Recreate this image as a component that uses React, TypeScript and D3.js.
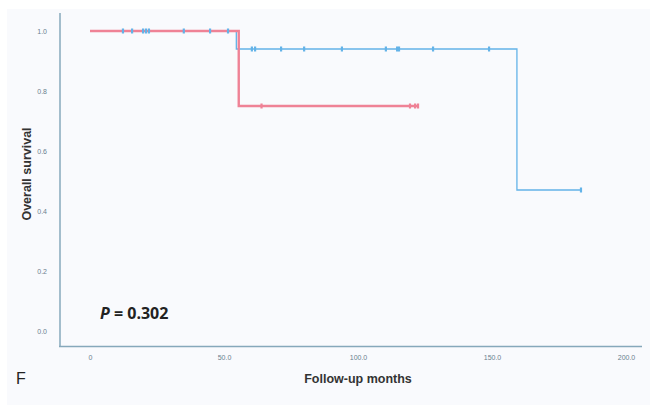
import React, { useEffect, useRef } from "react";
import * as d3 from "d3";

// step curves: time of each step and survival after it
const blueSteps = [0, 54.6, 159.3];
const blueSurv = [1.0, 0.94, 0.47];
const blueEnd = 183.2;
const blueCensor = [12.3, 15.7, 19.8, 20.9, 22, 35, 44.8, 51.5, 60.4, 61.6, 71.3, 79.9, 94, 110.4, 114.6, 115.3, 128, 148.9, 183.2];

const redSteps = [0, 55.5];
const redSurv = [1.0, 0.75];
const redEnd = 122.4;
const redCensor = [64, 119.4, 121.3, 122.4];

const xTicks = [0, 50, 100, 150, 200];
const yTicks = [0, 0.2, 0.4, 0.6, 0.8, 1.0];

const W = 650;
const H = 410;

export default function App() {
  const ref = useRef<SVGSVGElement>(null);

  useEffect(() => {
    const svg = d3.select(ref.current);
    svg.selectAll("*").remove();

    const x = d3.scaleLinear().domain([0, 200]).range([90, 626]);
    const y = d3.scaleLinear().domain([0, 1]).range([331, 31]);

    svg.append("rect").attr("x", 7).attr("y", 9).attr("width", W - 7).attr("height", 396).attr("fill", "#f9fafd");

    const axisColor = "#86a8bb";
    const xAxis = svg.append("g").attr("transform", "translate(0,346)")
      .call(d3.axisBottom(x).tickValues(xTicks).tickSize(0).tickPadding(9).tickFormat((d) => (+d === 0 ? "0" : d3.format(".1f")(+d))));
    xAxis.select(".domain").remove();
    xAxis.selectAll("text").attr("fill", "#6a7f8e").style("font-size", "7px").style("font-family", "Arial, Liberation Sans, sans-serif");

    const yAxis = svg.append("g").attr("transform", "translate(60,0)")
      .call(d3.axisLeft(y).tickValues(yTicks).tickSize(0).tickPadding(13).tickFormat(d3.format(".1f")));
    yAxis.select(".domain").remove();
    yAxis.selectAll("text").attr("fill", "#6a7f8e").style("font-size", "7px").style("font-family", "Arial, Liberation Sans, sans-serif");

    svg.append("line").attr("x1", 60).attr("x2", 60).attr("y1", 13).attr("y2", 346.5).attr("stroke", axisColor).attr("stroke-width", 1.5);
    svg.append("line").attr("x1", 59).attr("x2", 642).attr("y1", 346.5).attr("y2", 346.5).attr("stroke", axisColor).attr("stroke-width", 1.5);

    const stepPath = (steps: number[], surv: number[], end: number) => {
      const pts: [number, number][] = [];
      steps.forEach((t, i) => {
        if (i > 0) pts.push([t, surv[i - 1]]);
        pts.push([t, surv[i]]);
      });
      pts.push([end, surv[surv.length - 1]]);
      return d3.line<[number, number]>().x((d) => x(d[0])).y((d) => y(d[1]))(pts);
    };

    const survAt = (steps: number[], surv: number[], t: number) => {
      let s = surv[0];
      steps.forEach((st, i) => { if (t >= st) s = surv[i]; });
      return s;
    };

    const groups = [
      { steps: blueSteps, surv: blueSurv, end: blueEnd, censor: blueCensor, color: "#63b3e8", w: 1.3 },
      { steps: redSteps, surv: redSurv, end: redEnd, censor: redCensor, color: "#ef8296", w: 2.4 },
    ];

    // lines first (red drawn over blue), then censor ticks on top
    groups.forEach((g) => {
      svg.append("path").attr("d", stepPath(g.steps, g.surv, g.end)).attr("fill", "none").attr("stroke", g.color).attr("stroke-width", g.w);
    });
    [groups[1], groups[0]].forEach((g) => {
      svg.append("g").selectAll("line").data(g.censor).join("line")
        .attr("x1", (d) => x(d)).attr("x2", (d) => x(d))
        .attr("y1", (d) => y(survAt(g.steps, g.surv, d)) - 2.5)
        .attr("y2", (d) => y(survAt(g.steps, g.surv, d)) + 2.5)
        .attr("stroke", g.color).attr("stroke-width", 2.2);
    });

    svg.append("text").attr("transform", "translate(31,174) rotate(-90)").attr("text-anchor", "middle")
      .style("font-family", "Arial, Liberation Sans, sans-serif").style("font-size", "12.5px").style("font-weight", "bold").attr("fill", "#333").text("Overall survival");

    svg.append("text").attr("x", 358).attr("y", 383).attr("text-anchor", "middle")
      .style("font-family", "Arial, Liberation Sans, sans-serif").style("font-size", "12.5px").style("font-weight", "bold").attr("fill", "#333").text("Follow-up months");

    const p = svg.append("text").attr("x", 100).attr("y", 319)
      .style("font-family", "Open Sans, DejaVu Sans, sans-serif").style("font-size", "16px").style("font-weight", "bold").attr("fill", "#222");
    p.append("tspan").style("font-style", "italic").text("P");
    p.append("tspan").text(" = 0.302");

    svg.append("text").attr("x", 16).attr("y", 384)
      .style("font-family", "Arial, Liberation Sans, sans-serif").style("font-size", "16px").attr("fill", "#222").text("F");
  }, []);

  return <svg ref={ref} width={W} height={H} style={{ position: "absolute", left: 0, top: 0, background: "#fff" }} />;
}
